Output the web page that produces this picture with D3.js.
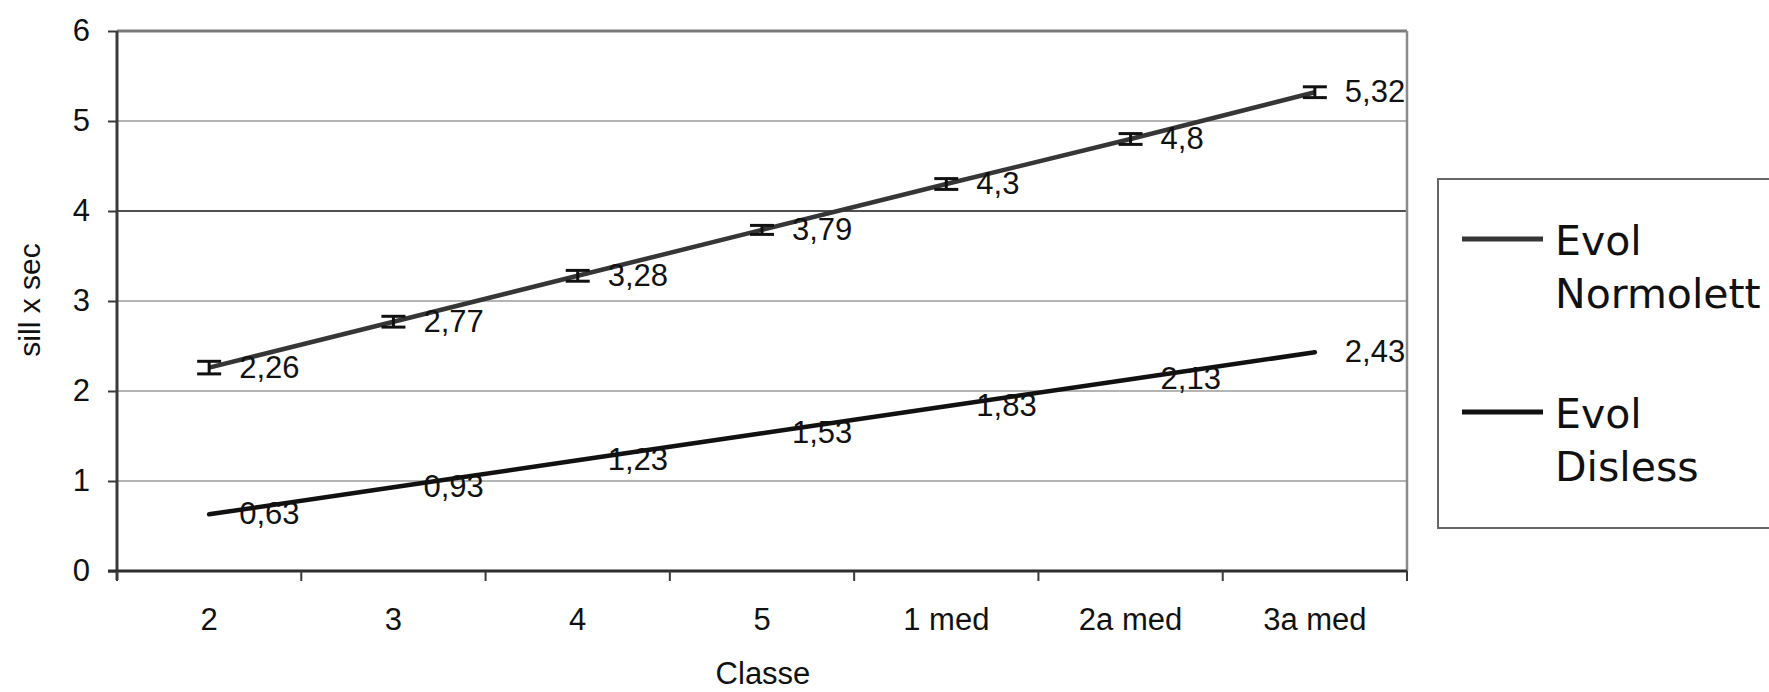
<!DOCTYPE html>
<html>
<head>
<meta charset="utf-8">
<script src="https://cdn.jsdelivr.net/npm/d3@7"></script>
<style>
  html, body { margin: 0; padding: 0; background: #fff; }
  svg { display: block; }
</style>
</head>
<body>
<svg id="chart" width="1769" height="692"></svg>
<script>
// classes on the x axis
const classes = ["2", "3", "4", "5", "1 med", "2a med", "3a med"];
// series values (sill x sec)
const normolett = [2.26, 2.77, 3.28, 3.79, 4.3, 4.8, 5.32];
const disless = [0.63, 0.93, 1.23, 1.53, 1.83, 2.13, 2.43];
// error bar half-heights for the Normolett series
const normolettErr = [0.07, 0.06, 0.06, 0.05, 0.06, 0.06, 0.06];
const yTicks = [0, 1, 2, 3, 4, 5, 6];
const seriesNames = [["Evol", "Normolett"], ["Evol", "Disless"]];

const svg = d3.select("#chart");
const plotLeft = 117, plotRight = 1407, plotTop = 31, plotBottom = 571;
const arial = "'Liberation Sans', Arial, sans-serif";

const x = d3.scaleBand().domain(classes).range([plotLeft, plotRight]).padding(0);
const y = d3.scaleLinear().domain([0, 6]).range([plotBottom, plotTop]);
const cx = c => x(c) + x.bandwidth() / 2;

// horizontal grid lines
svg.append("g")
  .selectAll("line")
  .data(yTicks.filter(d => d > 0 && d < 6))
  .join("line")
  .attr("x1", plotLeft).attr("x2", plotRight)
  .attr("y1", d => y(d)).attr("y2", d => y(d))
  .attr("stroke", d => d === 4 ? "#505050" : "#b4b4b4")
  .attr("stroke-width", 2);

// plot frame: top and right edges
svg.append("line")
  .attr("x1", plotLeft).attr("x2", plotRight).attr("y1", y(6)).attr("y2", y(6))
  .attr("stroke", "#7a7a7a").attr("stroke-width", 3);
svg.append("line")
  .attr("x1", plotRight).attr("x2", plotRight).attr("y1", y(6)).attr("y2", y(0))
  .attr("stroke", "#8a8a8a").attr("stroke-width", 2.5);

// y axis
const yAxis = svg.append("g")
  .attr("transform", `translate(${plotLeft},0)`)
  .call(d3.axisLeft(y).tickValues(yTicks).tickSize(9).tickPadding(18).tickFormat(d3.format("d")));
yAxis.select(".domain").attr("stroke", "#3a3a3a").attr("stroke-width", 3)
  .attr("d", `M0,${y(6)}V${y(0) + 9}`);
yAxis.selectAll(".tick line").attr("stroke", "#3a3a3a").attr("stroke-width", 2);
yAxis.selectAll(".tick text")
  .attr("font-family", arial).attr("font-size", 31).attr("fill", "#111");

// x axis: baseline, ticks at class boundaries, labels centred in each band
const xAxis = svg.append("g")
  .attr("transform", `translate(0,${plotBottom})`)
  .call(d3.axisBottom(x).tickSize(0).tickPadding(0));
xAxis.select(".domain").attr("stroke", "#2e2e2e").attr("stroke-width", 3)
  .attr("d", `M${plotLeft - 9},0H${plotRight}`);
xAxis.selectAll(".tick text")
  .attr("font-family", arial).attr("font-size", 31).attr("fill", "#111")
  .attr("y", 59).attr("dy", null);

const bounds = classes.map(c => x(c)).concat([plotRight]);
xAxis.append("g")
  .selectAll("line")
  .data(bounds)
  .join("line")
  .attr("x1", d => d).attr("x2", d => d)
  .attr("y1", 0).attr("y2", 10)
  .attr("stroke", "#3a3a3a").attr("stroke-width", 2);

// axis titles
svg.append("text")
  .attr("transform", `translate(40,300) rotate(-90)`)
  .attr("text-anchor", "middle")
  .attr("font-family", arial).attr("font-size", 30).attr("fill", "#111")
  .text("sill x sec");
svg.append("text")
  .attr("x", 763).attr("y", 684)
  .attr("text-anchor", "middle")
  .attr("font-family", arial).attr("font-size", 31).attr("fill", "#111")
  .text("Classe");

const line = d3.line().x(d => cx(d.c)).y(d => y(d.v));
const fmt = v => String(v).replace(".", ",");

// Disless series
const dis = classes.map((c, i) => ({ c, v: disless[i] }));
svg.append("path")
  .datum(dis)
  .attr("d", line)
  .attr("fill", "none").attr("stroke", "#111").attr("stroke-width", 4.5)
  .attr("stroke-linecap", "round");

// Normolett series
const norm = classes.map((c, i) => ({ c, v: normolett[i], e: normolettErr[i] }));
svg.append("path")
  .datum(norm)
  .attr("d", line)
  .attr("fill", "none").attr("stroke", "#363636").attr("stroke-width", 4.5);

// error bars
const eb = svg.append("g").selectAll("g").data(norm).join("g")
  .attr("transform", d => `translate(${cx(d.c)},0)`);
eb.append("line")
  .attr("x1", 0).attr("x2", 0)
  .attr("y1", d => y(d.v + d.e)).attr("y2", d => y(d.v - d.e))
  .attr("stroke", "#111").attr("stroke-width", 3);
eb.append("line")
  .attr("x1", -12).attr("x2", 12)
  .attr("y1", d => y(d.v + d.e)).attr("y2", d => y(d.v + d.e))
  .attr("stroke", "#111").attr("stroke-width", 3);
eb.append("line")
  .attr("x1", -12).attr("x2", 12)
  .attr("y1", d => y(d.v - d.e)).attr("y2", d => y(d.v - d.e))
  .attr("stroke", "#111").attr("stroke-width", 3);

// data labels
[norm, dis].forEach(s => {
  svg.append("g").selectAll("text").data(s).join("text")
    .attr("x", d => cx(d.c) + 30)
    .attr("y", d => y(d.v) + 10)
    .attr("font-family", arial).attr("font-size", 31).attr("fill", "#111")
    .text(d => fmt(d.v));
});

// legend
const lg = svg.append("g");
lg.append("rect")
  .attr("x", 1438).attr("y", 179).attr("width", 400).attr("height", 349)
  .attr("fill", "#fff").attr("stroke", "#666").attr("stroke-width", 2);
const legendRows = lg.selectAll("g").data(seriesNames).join("g")
  .attr("transform", (d, i) => `translate(0,${i * 173})`);
legendRows.append("line")
  .attr("x1", 1462).attr("x2", 1543).attr("y1", 239).attr("y2", 239)
  .attr("stroke", (d, i) => i === 0 ? "#363636" : "#111").attr("stroke-width", 5);
legendRows.append("text")
  .attr("font-family", "'DejaVu Sans', Verdana, sans-serif").attr("font-size", 41).attr("fill", "#111")
  .selectAll("tspan").data(d => d).join("tspan")
  .attr("x", 1555).attr("y", (d, i) => 255 + i * 53)
  .text(d => d);
</script>
</body>
</html>
